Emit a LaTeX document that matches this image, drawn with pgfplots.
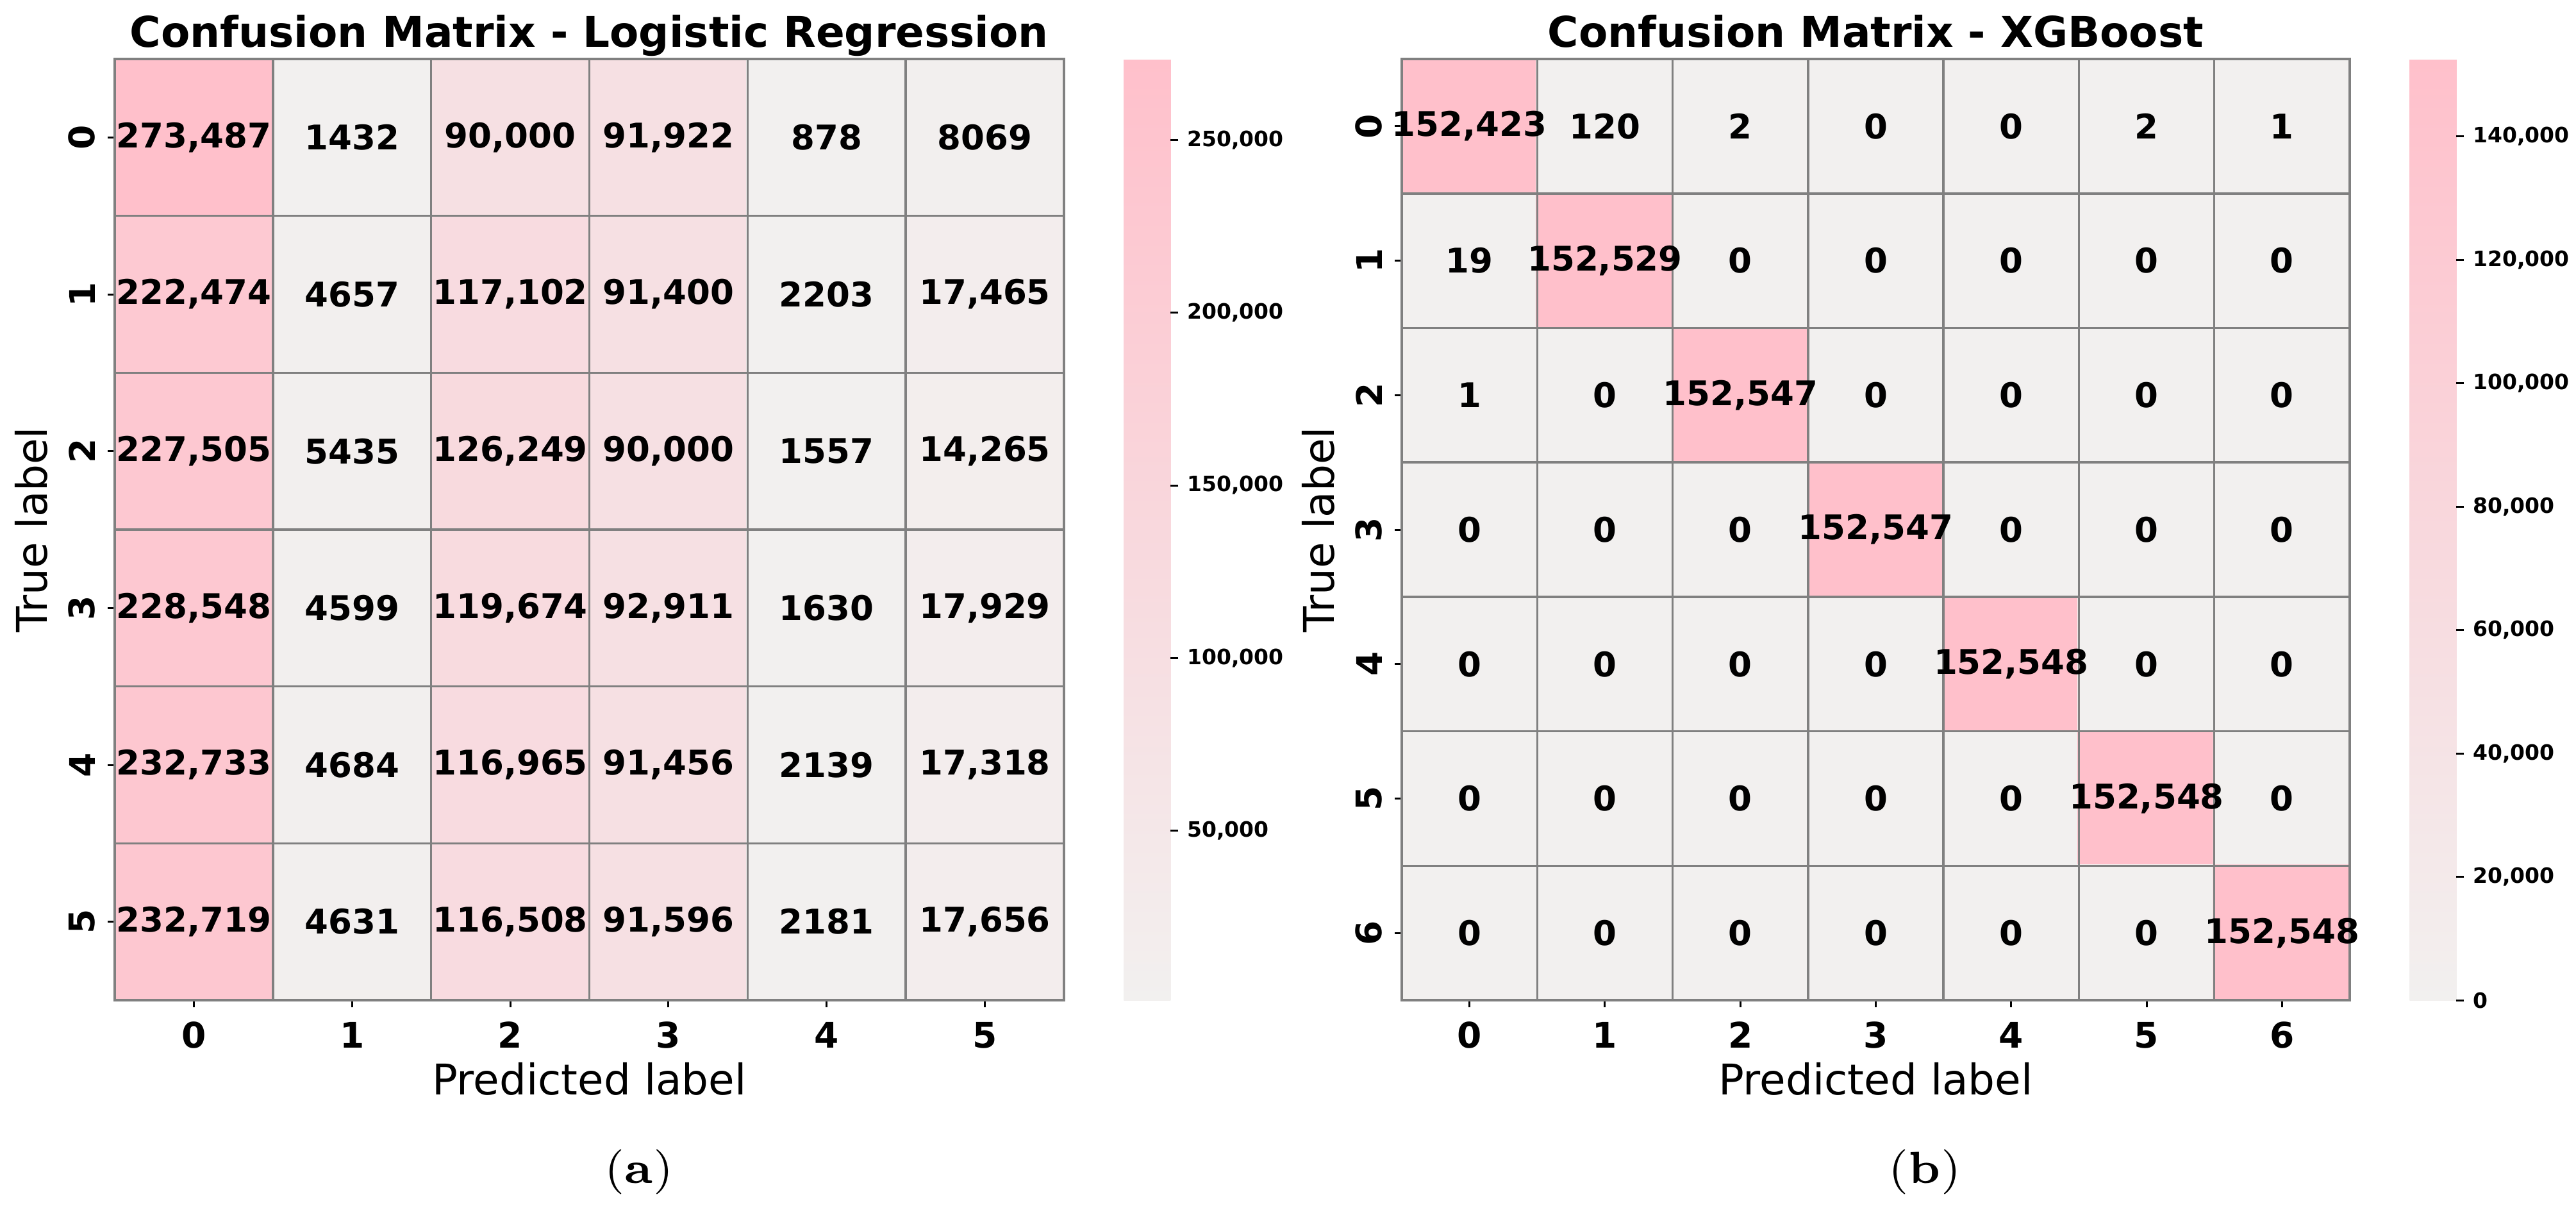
\documentclass[border=0pt]{standalone}
\usepackage{fontspec}
\usepackage{pgfplots}
\usepackage{pgfplotstable}
\pgfplotsset{compat=1.18}
\newfontfamily\dv{DejaVu Sans}
\newcommand\cellfont{\dv\bfseries\fontsize{5.3pt}{6pt}\selectfont}
\newcommand\tickfont{\dv\bfseries\fontsize{5.5pt}{6pt}\selectfont}
\newcommand\titlefont{\dv\bfseries\fontsize{6.6pt}{8pt}\selectfont}
\newcommand\labfont{\dv\fontsize{6.6pt}{8pt}\selectfont}
\newcommand\cbfont{\dv\bfseries\fontsize{3.3pt}{4pt}\selectfont}
\newcommand\capfont{\fontsize{7pt}{8pt}\selectfont}

\pgfplotstableread{
x y c l
0 0 273487 273,487
1 0 1432 1432
2 0 90000 90,000
3 0 91922 91,922
4 0 878 878
5 0 8069 8069
0 1 222474 222,474
1 1 4657 4657
2 1 117102 117,102
3 1 91400 91,400
4 1 2203 2203
5 1 17465 17,465
0 2 227505 227,505
1 2 5435 5435
2 2 126249 126,249
3 2 90000 90,000
4 2 1557 1557
5 2 14265 14,265
0 3 228548 228,548
1 3 4599 4599
2 3 119674 119,674
3 3 92911 92,911
4 3 1630 1630
5 3 17929 17,929
0 4 232733 232,733
1 4 4684 4684
2 4 116965 116,965
3 4 91456 91,456
4 4 2139 2139
5 4 17318 17,318
0 5 232719 232,719
1 5 4631 4631
2 5 116508 116,508
3 5 91596 91,596
4 5 2181 2181
5 5 17656 17,656
}\lrdata

\pgfplotstableread{
x y c l
0 0 152423 152,423
1 0 120 120
2 0 2 2
3 0 0 0
4 0 0 0
5 0 2 2
6 0 1 1
0 1 19 19
1 1 152529 152,529
2 1 0 0
3 1 0 0
4 1 0 0
5 1 0 0
6 1 0 0
0 2 1 1
1 2 0 0
2 2 152547 152,547
3 2 0 0
4 2 0 0
5 2 0 0
6 2 0 0
0 3 0 0
1 3 0 0
2 3 0 0
3 3 152547 152,547
4 3 0 0
5 3 0 0
6 3 0 0
0 4 0 0
1 4 0 0
2 4 0 0
3 4 0 0
4 4 152548 152,548
5 4 0 0
6 4 0 0
0 5 0 0
1 5 0 0
2 5 0 0
3 5 0 0
4 5 0 0
5 5 152548 152,548
6 5 0 0
0 6 0 0
1 6 0 0
2 6 0 0
3 6 0 0
4 6 0 0
5 6 0 0
6 6 152548 152,548
}\xgbdata

\pgfplotsset{
  cm/.style={
    scale only axis, height=146.8pt,
    enlargelimits=false, y dir=reverse,
    tick pos=left, tick align=outside, major tick length=1.1pt,
    tick style={black, line width=0.3pt},
    minor tick length=0pt,
    axis line style={draw=gray, line width=0.35pt},
    minor grid style={draw=gray, line width=0.35pt},
    xminorgrids, yminorgrids,
    axis on top,
    xticklabel style={font=\tickfont, anchor=north, inner sep=2.1pt},
    yticklabel style={font=\tickfont, rotate=90, anchor=south, inner sep=1.8pt},
    every axis title/.style={at={(axis description cs:0.5,1)}, anchor=base, yshift=1.9pt, font=\titlefont},
    xlabel={Predicted label}, ylabel={True label},
    every axis x label/.style={at={(axis description cs:0.5,0)}, anchor=north, yshift=-9.5pt, inner sep=0pt, font=\labfont},
    every axis y label/.style={at={(axis description cs:0,0.5)}, rotate=90, anchor=south, inner sep=10.3pt, font=\labfont},
    colormap={pinkmap}{rgb255=(242,240,239) rgb255=(255,192,203)},
    colorbar,
    every node near coord/.append style={anchor=center, font=\cellfont, inner sep=0pt},
  },
  cbar/.style={
    at={(parent axis.north east)}, anchor=north west, xshift=0.8pt,
    width=7.3pt, height=146.8pt, scale only axis,
    axis line style={draw=none},
    tick align=outside, major tick length=1.2pt,
    tick style={black, line width=0.3pt},
    ytick pos=right, yticklabel pos=right,
    yticklabel style={font=\cbfont, anchor=west, inner sep=1.2pt},
    scaled y ticks=false,
    yticklabel={\pgfmathprintnumber[fixed,1000 sep={,},assume math mode=true]{\tick}},
  },
}

\begin{document}
\begin{tikzpicture}
\path[use as bounding box] (0,0) rectangle (401.9pt,188pt);

\begin{axis}[cm,
  at={(17.9pt,32pt)}, anchor=south west, width=148.1pt,
  xmin=-0.5, xmax=5.5, ymin=-0.5, ymax=5.5,
  xtick={0,...,5}, xticklabels={0,1,2,3,4,5},
  ytick={0,...,5}, yticklabels={0,1,2,3,4,5},
  minor xtick={-0.5,0.5,1.5,2.5,3.5,4.5,5.5},
  minor ytick={-0.5,0.5,1.5,2.5,3.5,4.5,5.5},
  point meta min=878, point meta max=273487,
  title={Confusion Matrix - Logistic Regression},
  colorbar style={cbar, ytick={50000,100000,150000,200000,250000}},
]
\addplot[matrix plot*, mesh/cols=6, point meta=explicit] table[x=x, y=y, meta=c] {\lrdata};
\addplot[only marks, mark=none, nodes near coords, point meta=explicit symbolic] table[x=x, y=y, meta=l] {\lrdata};
\end{axis}

\begin{axis}[cm,
  at={(218.7pt,32pt)}, anchor=south west, width=147.9pt,
  xmin=-0.5, xmax=6.5, ymin=-0.5, ymax=6.5,
  xtick={0,...,6}, xticklabels={0,1,2,3,4,5,6},
  ytick={0,...,6}, yticklabels={0,1,2,3,4,5,6},
  minor xtick={-0.5,0.5,1.5,2.5,3.5,4.5,5.5,6.5},
  minor ytick={-0.5,0.5,1.5,2.5,3.5,4.5,5.5,6.5},
  point meta min=0, point meta max=152548,
  title={Confusion Matrix - XGBoost},
  colorbar style={cbar, ytick={0,20000,40000,60000,80000,100000,120000,140000}},
]
\addplot[matrix plot*, mesh/cols=7, point meta=explicit] table[x=x, y=y, meta=c] {\xgbdata};
\addplot[only marks, mark=none, nodes near coords, point meta=explicit symbolic] table[x=x, y=y, meta=l] {\xgbdata};
\end{axis}

\node[font=\capfont] at (99.7pt,5.2pt) {(\textbf{a})};
\node[font=\capfont] at (300.3pt,5.2pt) {(\textbf{b})};
\end{tikzpicture}
\end{document}
